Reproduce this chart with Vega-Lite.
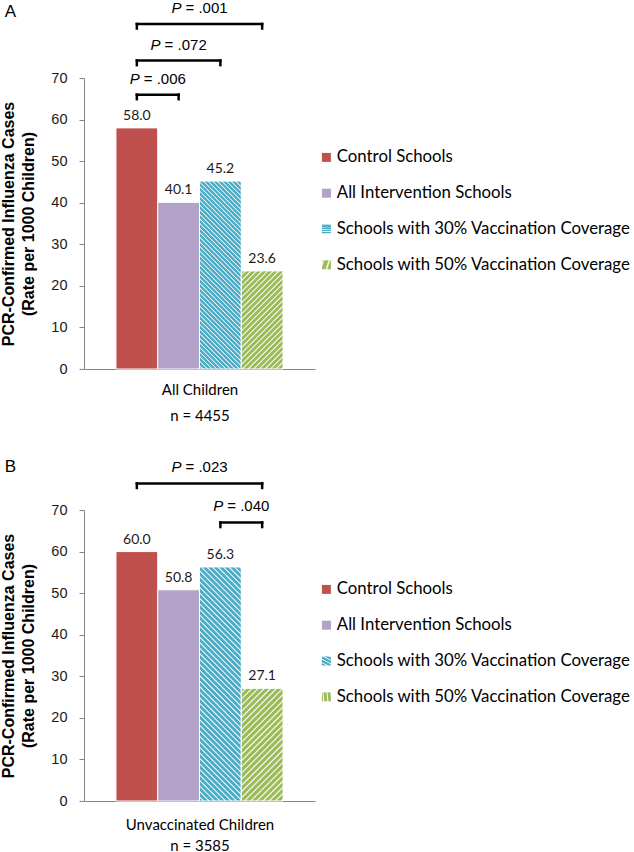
{
  "$schema": "https://vega.github.io/schema/vega-lite/v6.json",
  "background": "white",
  "padding": {"left": 0, "top": 0, "right": 2, "bottom": 2},
  "config": {"view": {"stroke": null}},
  "spacing": 35,
  "params": [
    {"name": "tealStops", "value": [
      {"offset":0,"color":"#4BACC6"},{"offset":0.01,"color":"#4BACC6"},{"offset":0.015,"color":"#FFFFFF"},
      {"offset":0.02,"color":"#4BACC6"},{"offset":0.03,"color":"#4BACC6"},{"offset":0.035,"color":"#FFFFFF"},
      {"offset":0.04,"color":"#4BACC6"},{"offset":0.05,"color":"#4BACC6"},{"offset":0.055,"color":"#FFFFFF"},
      {"offset":0.06,"color":"#4BACC6"},{"offset":0.07,"color":"#4BACC6"},{"offset":0.075,"color":"#FFFFFF"},
      {"offset":0.08,"color":"#4BACC6"},{"offset":0.09,"color":"#4BACC6"},{"offset":0.095,"color":"#FFFFFF"},
      {"offset":0.1,"color":"#4BACC6"},{"offset":0.11,"color":"#4BACC6"},{"offset":0.115,"color":"#FFFFFF"},
      {"offset":0.12,"color":"#4BACC6"},{"offset":0.13,"color":"#4BACC6"},{"offset":0.135,"color":"#FFFFFF"},
      {"offset":0.14,"color":"#4BACC6"},{"offset":0.15,"color":"#4BACC6"},{"offset":0.155,"color":"#FFFFFF"},
      {"offset":0.16,"color":"#4BACC6"},{"offset":0.17,"color":"#4BACC6"},{"offset":0.175,"color":"#FFFFFF"},
      {"offset":0.18,"color":"#4BACC6"},{"offset":0.19,"color":"#4BACC6"},{"offset":0.195,"color":"#FFFFFF"},
      {"offset":0.2,"color":"#4BACC6"},{"offset":0.21,"color":"#4BACC6"},{"offset":0.215,"color":"#FFFFFF"},
      {"offset":0.22,"color":"#4BACC6"},{"offset":0.23,"color":"#4BACC6"},{"offset":0.235,"color":"#FFFFFF"},
      {"offset":0.24,"color":"#4BACC6"},{"offset":0.25,"color":"#4BACC6"},{"offset":0.255,"color":"#FFFFFF"},
      {"offset":0.26,"color":"#4BACC6"},{"offset":0.27,"color":"#4BACC6"},{"offset":0.275,"color":"#FFFFFF"},
      {"offset":0.28,"color":"#4BACC6"},{"offset":0.29,"color":"#4BACC6"},{"offset":0.295,"color":"#FFFFFF"},
      {"offset":0.3,"color":"#4BACC6"},{"offset":0.31,"color":"#4BACC6"},{"offset":0.315,"color":"#FFFFFF"},
      {"offset":0.32,"color":"#4BACC6"},{"offset":0.33,"color":"#4BACC6"},{"offset":0.335,"color":"#FFFFFF"},
      {"offset":0.34,"color":"#4BACC6"},{"offset":0.35,"color":"#4BACC6"},{"offset":0.355,"color":"#FFFFFF"},
      {"offset":0.36,"color":"#4BACC6"},{"offset":0.37,"color":"#4BACC6"},{"offset":0.375,"color":"#FFFFFF"},
      {"offset":0.38,"color":"#4BACC6"},{"offset":0.39,"color":"#4BACC6"},{"offset":0.395,"color":"#FFFFFF"},
      {"offset":0.4,"color":"#4BACC6"},{"offset":0.41,"color":"#4BACC6"},{"offset":0.415,"color":"#FFFFFF"},
      {"offset":0.42,"color":"#4BACC6"},{"offset":0.43,"color":"#4BACC6"},{"offset":0.435,"color":"#FFFFFF"},
      {"offset":0.44,"color":"#4BACC6"},{"offset":0.45,"color":"#4BACC6"},{"offset":0.455,"color":"#FFFFFF"},
      {"offset":0.46,"color":"#4BACC6"},{"offset":0.47,"color":"#4BACC6"},{"offset":0.475,"color":"#FFFFFF"},
      {"offset":0.48,"color":"#4BACC6"},{"offset":0.49,"color":"#4BACC6"},{"offset":0.495,"color":"#FFFFFF"},
      {"offset":0.5,"color":"#4BACC6"},{"offset":0.51,"color":"#4BACC6"},{"offset":0.515,"color":"#FFFFFF"},
      {"offset":0.52,"color":"#4BACC6"},{"offset":0.53,"color":"#4BACC6"},{"offset":0.535,"color":"#FFFFFF"},
      {"offset":0.54,"color":"#4BACC6"},{"offset":0.55,"color":"#4BACC6"},{"offset":0.555,"color":"#FFFFFF"},
      {"offset":0.56,"color":"#4BACC6"},{"offset":0.57,"color":"#4BACC6"},{"offset":0.575,"color":"#FFFFFF"},
      {"offset":0.58,"color":"#4BACC6"},{"offset":0.59,"color":"#4BACC6"},{"offset":0.595,"color":"#FFFFFF"},
      {"offset":0.6,"color":"#4BACC6"},{"offset":0.61,"color":"#4BACC6"},{"offset":0.615,"color":"#FFFFFF"},
      {"offset":0.62,"color":"#4BACC6"},{"offset":0.63,"color":"#4BACC6"},{"offset":0.635,"color":"#FFFFFF"},
      {"offset":0.64,"color":"#4BACC6"},{"offset":0.65,"color":"#4BACC6"},{"offset":0.655,"color":"#FFFFFF"},
      {"offset":0.66,"color":"#4BACC6"},{"offset":0.67,"color":"#4BACC6"},{"offset":0.675,"color":"#FFFFFF"},
      {"offset":0.68,"color":"#4BACC6"},{"offset":0.69,"color":"#4BACC6"},{"offset":0.695,"color":"#FFFFFF"},
      {"offset":0.7,"color":"#4BACC6"},{"offset":0.71,"color":"#4BACC6"},{"offset":0.715,"color":"#FFFFFF"},
      {"offset":0.72,"color":"#4BACC6"},{"offset":0.73,"color":"#4BACC6"},{"offset":0.735,"color":"#FFFFFF"},
      {"offset":0.74,"color":"#4BACC6"},{"offset":0.75,"color":"#4BACC6"},{"offset":0.755,"color":"#FFFFFF"},
      {"offset":0.76,"color":"#4BACC6"},{"offset":0.77,"color":"#4BACC6"},{"offset":0.775,"color":"#FFFFFF"},
      {"offset":0.78,"color":"#4BACC6"},{"offset":0.79,"color":"#4BACC6"},{"offset":0.795,"color":"#FFFFFF"},
      {"offset":0.8,"color":"#4BACC6"},{"offset":0.81,"color":"#4BACC6"},{"offset":0.815,"color":"#FFFFFF"},
      {"offset":0.82,"color":"#4BACC6"},{"offset":0.83,"color":"#4BACC6"},{"offset":0.835,"color":"#FFFFFF"},
      {"offset":0.84,"color":"#4BACC6"},{"offset":0.85,"color":"#4BACC6"},{"offset":0.855,"color":"#FFFFFF"},
      {"offset":0.86,"color":"#4BACC6"},{"offset":0.87,"color":"#4BACC6"},{"offset":0.875,"color":"#FFFFFF"},
      {"offset":0.88,"color":"#4BACC6"},{"offset":0.89,"color":"#4BACC6"},{"offset":0.895,"color":"#FFFFFF"},
      {"offset":0.9,"color":"#4BACC6"},{"offset":0.91,"color":"#4BACC6"},{"offset":0.915,"color":"#FFFFFF"},
      {"offset":0.92,"color":"#4BACC6"},{"offset":0.93,"color":"#4BACC6"},{"offset":0.935,"color":"#FFFFFF"},
      {"offset":0.94,"color":"#4BACC6"},{"offset":0.95,"color":"#4BACC6"},{"offset":0.955,"color":"#FFFFFF"},
      {"offset":0.96,"color":"#4BACC6"},{"offset":0.97,"color":"#4BACC6"},{"offset":0.975,"color":"#FFFFFF"},
      {"offset":0.98,"color":"#4BACC6"},{"offset":0.99,"color":"#4BACC6"},{"offset":0.995,"color":"#FFFFFF"},
      {"offset":1,"color":"#4BACC6"}
    ]},
    {"name": "greenStops", "value": [
      {"offset":0,"color":"#9BBB59"},{"offset":0.02,"color":"#9BBB59"},{"offset":0.03,"color":"#FFFFFF"},
      {"offset":0.04,"color":"#9BBB59"},{"offset":0.06,"color":"#9BBB59"},{"offset":0.07,"color":"#FFFFFF"},
      {"offset":0.08,"color":"#9BBB59"},{"offset":0.1,"color":"#9BBB59"},{"offset":0.11,"color":"#FFFFFF"},
      {"offset":0.12,"color":"#9BBB59"},{"offset":0.14,"color":"#9BBB59"},{"offset":0.15,"color":"#FFFFFF"},
      {"offset":0.16,"color":"#9BBB59"},{"offset":0.18,"color":"#9BBB59"},{"offset":0.19,"color":"#FFFFFF"},
      {"offset":0.2,"color":"#9BBB59"},{"offset":0.22,"color":"#9BBB59"},{"offset":0.23,"color":"#FFFFFF"},
      {"offset":0.24,"color":"#9BBB59"},{"offset":0.26,"color":"#9BBB59"},{"offset":0.27,"color":"#FFFFFF"},
      {"offset":0.28,"color":"#9BBB59"},{"offset":0.3,"color":"#9BBB59"},{"offset":0.31,"color":"#FFFFFF"},
      {"offset":0.32,"color":"#9BBB59"},{"offset":0.34,"color":"#9BBB59"},{"offset":0.35,"color":"#FFFFFF"},
      {"offset":0.36,"color":"#9BBB59"},{"offset":0.38,"color":"#9BBB59"},{"offset":0.39,"color":"#FFFFFF"},
      {"offset":0.4,"color":"#9BBB59"},{"offset":0.42,"color":"#9BBB59"},{"offset":0.43,"color":"#FFFFFF"},
      {"offset":0.44,"color":"#9BBB59"},{"offset":0.46,"color":"#9BBB59"},{"offset":0.47,"color":"#FFFFFF"},
      {"offset":0.48,"color":"#9BBB59"},{"offset":0.5,"color":"#9BBB59"},{"offset":0.51,"color":"#FFFFFF"},
      {"offset":0.52,"color":"#9BBB59"},{"offset":0.54,"color":"#9BBB59"},{"offset":0.55,"color":"#FFFFFF"},
      {"offset":0.56,"color":"#9BBB59"},{"offset":0.58,"color":"#9BBB59"},{"offset":0.59,"color":"#FFFFFF"},
      {"offset":0.6,"color":"#9BBB59"},{"offset":0.62,"color":"#9BBB59"},{"offset":0.63,"color":"#FFFFFF"},
      {"offset":0.64,"color":"#9BBB59"},{"offset":0.66,"color":"#9BBB59"},{"offset":0.67,"color":"#FFFFFF"},
      {"offset":0.68,"color":"#9BBB59"},{"offset":0.7,"color":"#9BBB59"},{"offset":0.71,"color":"#FFFFFF"},
      {"offset":0.72,"color":"#9BBB59"},{"offset":0.74,"color":"#9BBB59"},{"offset":0.75,"color":"#FFFFFF"},
      {"offset":0.76,"color":"#9BBB59"},{"offset":0.78,"color":"#9BBB59"},{"offset":0.79,"color":"#FFFFFF"},
      {"offset":0.8,"color":"#9BBB59"},{"offset":0.82,"color":"#9BBB59"},{"offset":0.83,"color":"#FFFFFF"},
      {"offset":0.84,"color":"#9BBB59"},{"offset":0.86,"color":"#9BBB59"},{"offset":0.87,"color":"#FFFFFF"},
      {"offset":0.88,"color":"#9BBB59"},{"offset":0.9,"color":"#9BBB59"},{"offset":0.91,"color":"#FFFFFF"},
      {"offset":0.92,"color":"#9BBB59"},{"offset":0.94,"color":"#9BBB59"},{"offset":0.95,"color":"#FFFFFF"},
      {"offset":0.96,"color":"#9BBB59"},{"offset":0.98,"color":"#9BBB59"},{"offset":0.99,"color":"#FFFFFF"},
      {"offset":1,"color":"#9BBB59"}
    ]}
  ],
  "datasets": {
    "barsA": [
      {"group": "Control Schools", "rate": 58.0},
      {"group": "All Intervention Schools", "rate": 40.1},
      {"group": "Schools with 30% Vaccination Coverage", "rate": 45.2},
      {"group": "Schools with 50% Vaccination Coverage", "rate": 23.6}
    ],
    "barsB": [
      {"group": "Control Schools", "rate": 60.0},
      {"group": "All Intervention Schools", "rate": 50.8},
      {"group": "Schools with 30% Vaccination Coverage", "rate": 56.3},
      {"group": "Schools with 50% Vaccination Coverage", "rate": 27.1}
    ],
    "bracketsA": [
      {"from": "Control Schools", "to": "All Intervention Schools", "level": 66, "tip": 64.9, "p": "= .006", "at": "All Intervention Schools", "pos": "edge"},
      {"from": "Control Schools", "to": "Schools with 30% Vaccination Coverage", "level": 74.2, "tip": 73.1, "p": "= .072", "at": "All Intervention Schools", "pos": "center"},
      {"from": "Control Schools", "to": "Schools with 50% Vaccination Coverage", "level": 83, "tip": 81.9, "p": "= .001", "at": "Schools with 30% Vaccination Coverage", "pos": "edge"}
    ],
    "bracketsB": [
      {"from": "Control Schools", "to": "Schools with 50% Vaccination Coverage", "level": 76.4, "tip": 75.3, "p": "= .023", "at": "Schools with 30% Vaccination Coverage", "pos": "edge"},
      {"from": "Schools with 30% Vaccination Coverage", "to": "Schools with 50% Vaccination Coverage", "level": 67, "tip": 65.9, "p": "= .040", "at": "Schools with 50% Vaccination Coverage", "pos": "edge"}
    ]
  },
  "vconcat": [
    {
      "title": {"text": "A", "anchor": "start", "frame": "bounds", "font": "Liberation Sans", "fontSize": 17, "fontWeight": "normal", "color": "black", "offset": -20, "dx": 4},
      "width": 231,
      "height": 291,
      "layer": [
        {
          "data": {"name": "barsA"},
          "mark": {"type": "bar", "stroke": "white", "strokeWidth": 1},
          "encoding": {
            "x": {"field": "group", "type": "nominal", "scale": {"domain": ["Control Schools", "All Intervention Schools", "Schools with 30% Vaccination Coverage", "Schools with 50% Vaccination Coverage"], "paddingInner": 0, "paddingOuter": 0.765},
              "axis": {"title": ["All Children", "n = 4455"], "labels": false, "ticks": false, "domainColor": "#868686", "titleFont": "Lato", "titleFontSize": 15, "titleFontWeight": "normal", "titleColor": "black", "titleLineHeight": 26, "titlePadding": 13}},
            "y": {"field": "rate", "type": "quantitative", "scale": {"domain": [0, 70], "nice": false},
              "axis": {"title": ["PCR-Confirmed Influenza Cases", "(Rate per 1000 Children)"], "values": [0, 10, 20, 30, 40, 50, 60, 70], "grid": false, "domainColor": "#868686", "tickColor": "#868686", "tickSize": 5, "labelFont": "Liberation Sans", "labelFontSize": 14.5, "labelColor": "#1a1a1a", "labelPadding": 12, "titleFont": "Liberation Sans", "titleFontSize": 16, "titleFontWeight": "bold", "titleColor": "black", "titleLineHeight": 20, "titlePadding": 14}},
            "color": {"field": "group", "type": "nominal",
              "scale": {"domain": ["Control Schools", "All Intervention Schools", "Schools with 30% Vaccination Coverage", "Schools with 50% Vaccination Coverage"],
                "range": ["#C0504D", "#B3A2C7", {"expr": "{gradient: 'linear', x1: 0, y1: 1, x2: 0.2589, y2: -0.1648, stops: tealStops}"}, {"expr": "{gradient: 'linear', x1: 0, y1: 0, x2: 0.5139, y2: 1.207, stops: greenStops}"}]},
              "legend": {"orient": "none", "legendX": 234, "legendY": 71, "title": null, "symbolType": "square", "symbolSize": 81, "symbolStrokeWidth": 0, "labelFont": "Lato", "labelFontSize": 16.8, "labelColor": "black", "labelOffset": 2, "rowPadding": 17.8, "padding": 0, "labelLimit": 400}}
          }
        },
        {
          "data": {"name": "barsA"},
          "mark": {"type": "text", "font": "Lato", "fontSize": 14, "baseline": "alphabetic", "dy": -8, "color": "#1a1a1a"},
          "encoding": {
            "x": {"field": "group", "type": "nominal", "scale": {"domain": ["Control Schools", "All Intervention Schools", "Schools with 30% Vaccination Coverage", "Schools with 50% Vaccination Coverage"], "paddingInner": 0, "paddingOuter": 0.765}},
            "y": {"field": "rate", "type": "quantitative", "scale": {"domain": [0, 70], "nice": false}},
            "text": {"field": "rate", "type": "quantitative", "format": ".1f"}
          }
        },
        {
          "data": {"name": "bracketsA"},
          "mark": {"type": "rule", "color": "black", "strokeWidth": 2.5, "strokeCap": "square"},
          "encoding": {
            "x": {"field": "from", "type": "nominal", "scale": {"domain": ["Control Schools", "All Intervention Schools", "Schools with 30% Vaccination Coverage", "Schools with 50% Vaccination Coverage"], "paddingInner": 0, "paddingOuter": 0.765}},
            "x2": {"field": "to"},
            "y": {"field": "level", "type": "quantitative", "scale": {"domain": [0, 70], "nice": false}}
          }
        },
        {
          "data": {"name": "bracketsA"},
          "mark": {"type": "rule", "color": "black", "strokeWidth": 2.5, "strokeCap": "square"},
          "encoding": {
            "x": {"field": "from", "type": "nominal", "scale": {"domain": ["Control Schools", "All Intervention Schools", "Schools with 30% Vaccination Coverage", "Schools with 50% Vaccination Coverage"], "paddingInner": 0, "paddingOuter": 0.765}},
            "y": {"field": "level", "type": "quantitative", "scale": {"domain": [0, 70], "nice": false}},
            "y2": {"field": "tip"}
          }
        },
        {
          "data": {"name": "bracketsA"},
          "mark": {"type": "rule", "color": "black", "strokeWidth": 2.5, "strokeCap": "square"},
          "encoding": {
            "x": {"field": "to", "type": "nominal", "scale": {"domain": ["Control Schools", "All Intervention Schools", "Schools with 30% Vaccination Coverage", "Schools with 50% Vaccination Coverage"], "paddingInner": 0, "paddingOuter": 0.765}},
            "y": {"field": "level", "type": "quantitative", "scale": {"domain": [0, 70], "nice": false}},
            "y2": {"field": "tip"}
          }
        },
        {
          "data": {"name": "bracketsA"},
          "transform": [{"filter": "datum.pos === 'edge'"}],
          "mark": {"type": "text", "text": "P", "font": "Liberation Sans", "fontSize": 15, "fontStyle": "italic", "align": "right", "baseline": "alphabetic", "dx": -18, "dy": -11, "color": "black"},
          "encoding": {
            "x": {"field": "at", "type": "nominal", "bandPosition": 0, "scale": {"domain": ["Control Schools", "All Intervention Schools", "Schools with 30% Vaccination Coverage", "Schools with 50% Vaccination Coverage"], "paddingInner": 0, "paddingOuter": 0.765}},
            "y": {"field": "level", "type": "quantitative", "scale": {"domain": [0, 70], "nice": false}}
          }
        },
        {
          "data": {"name": "bracketsA"},
          "transform": [{"filter": "datum.pos === 'center'"}],
          "mark": {"type": "text", "text": "P", "font": "Liberation Sans", "fontSize": 15, "fontStyle": "italic", "align": "right", "baseline": "alphabetic", "dx": -18, "dy": -11, "color": "black"},
          "encoding": {
            "x": {"field": "at", "type": "nominal", "bandPosition": 0.5, "scale": {"domain": ["Control Schools", "All Intervention Schools", "Schools with 30% Vaccination Coverage", "Schools with 50% Vaccination Coverage"], "paddingInner": 0, "paddingOuter": 0.765}},
            "y": {"field": "level", "type": "quantitative", "scale": {"domain": [0, 70], "nice": false}}
          }
        },
        {
          "data": {"name": "bracketsA"},
          "transform": [{"filter": "datum.pos === 'edge'"}],
          "mark": {"type": "text", "font": "Liberation Sans", "fontSize": 15, "align": "left", "baseline": "alphabetic", "dx": -14, "dy": -11, "color": "black"},
          "encoding": {
            "x": {"field": "at", "type": "nominal", "bandPosition": 0, "scale": {"domain": ["Control Schools", "All Intervention Schools", "Schools with 30% Vaccination Coverage", "Schools with 50% Vaccination Coverage"], "paddingInner": 0, "paddingOuter": 0.765}},
            "y": {"field": "level", "type": "quantitative", "scale": {"domain": [0, 70], "nice": false}},
            "text": {"field": "p", "type": "nominal"}
          }
        },
        {
          "data": {"name": "bracketsA"},
          "transform": [{"filter": "datum.pos === 'center'"}],
          "mark": {"type": "text", "font": "Liberation Sans", "fontSize": 15, "align": "left", "baseline": "alphabetic", "dx": -14, "dy": -11, "color": "black"},
          "encoding": {
            "x": {"field": "at", "type": "nominal", "bandPosition": 0.5, "scale": {"domain": ["Control Schools", "All Intervention Schools", "Schools with 30% Vaccination Coverage", "Schools with 50% Vaccination Coverage"], "paddingInner": 0, "paddingOuter": 0.765}},
            "y": {"field": "level", "type": "quantitative", "scale": {"domain": [0, 70], "nice": false}},
            "text": {"field": "p", "type": "nominal"}
          }
        }
      ]
    },
    {
      "title": {"text": "B", "anchor": "start", "frame": "bounds", "font": "Liberation Sans", "fontSize": 17, "fontWeight": "normal", "color": "black", "offset": -16, "dx": 4},
      "width": 231,
      "height": 291,
      "layer": [
        {
          "data": {"name": "barsB"},
          "mark": {"type": "bar", "stroke": "white", "strokeWidth": 1},
          "encoding": {
            "x": {"field": "group", "type": "nominal", "scale": {"domain": ["Control Schools", "All Intervention Schools", "Schools with 30% Vaccination Coverage", "Schools with 50% Vaccination Coverage"], "paddingInner": 0, "paddingOuter": 0.765},
              "axis": {"title": ["Unvaccinated Children", "n = 3585"], "labels": false, "ticks": false, "domainColor": "#868686", "titleFont": "Lato", "titleFontSize": 15, "titleFontWeight": "normal", "titleColor": "black", "titleLineHeight": 21, "titlePadding": 16}},
            "y": {"field": "rate", "type": "quantitative", "scale": {"domain": [0, 70], "nice": false},
              "axis": {"title": ["PCR-Confirmed Influenza Cases", "(Rate per 1000 Children)"], "values": [0, 10, 20, 30, 40, 50, 60, 70], "grid": false, "domainColor": "#868686", "tickColor": "#868686", "tickSize": 5, "labelFont": "Liberation Sans", "labelFontSize": 14.5, "labelColor": "#1a1a1a", "labelPadding": 12, "titleFont": "Liberation Sans", "titleFontSize": 16, "titleFontWeight": "bold", "titleColor": "black", "titleLineHeight": 20, "titlePadding": 14}},
            "color": {"field": "group", "type": "nominal",
              "scale": {"domain": ["Control Schools", "All Intervention Schools", "Schools with 30% Vaccination Coverage", "Schools with 50% Vaccination Coverage"],
                "range": ["#C0504D", "#B3A2C7", {"expr": "{gradient: 'linear', x1: 0, y1: 1, x2: 0.2039, y2: -0.1421, stops: tealStops}"}, {"expr": "{gradient: 'linear', x1: 0, y1: 0, x2: 0.4469, y2: 1.2051, stops: greenStops}"}]},
              "legend": {"orient": "none", "legendX": 234, "legendY": 71, "title": null, "symbolType": "square", "symbolSize": 81, "symbolStrokeWidth": 0, "labelFont": "Lato", "labelFontSize": 16.8, "labelColor": "black", "labelOffset": 2, "rowPadding": 17.8, "padding": 0, "labelLimit": 400}}
          }
        },
        {
          "data": {"name": "barsB"},
          "mark": {"type": "text", "font": "Lato", "fontSize": 14, "baseline": "alphabetic", "dy": -8, "color": "#1a1a1a"},
          "encoding": {
            "x": {"field": "group", "type": "nominal", "scale": {"domain": ["Control Schools", "All Intervention Schools", "Schools with 30% Vaccination Coverage", "Schools with 50% Vaccination Coverage"], "paddingInner": 0, "paddingOuter": 0.765}},
            "y": {"field": "rate", "type": "quantitative", "scale": {"domain": [0, 70], "nice": false}},
            "text": {"field": "rate", "type": "quantitative", "format": ".1f"}
          }
        },
        {
          "data": {"name": "bracketsB"},
          "mark": {"type": "rule", "color": "black", "strokeWidth": 2.5, "strokeCap": "square"},
          "encoding": {
            "x": {"field": "from", "type": "nominal", "scale": {"domain": ["Control Schools", "All Intervention Schools", "Schools with 30% Vaccination Coverage", "Schools with 50% Vaccination Coverage"], "paddingInner": 0, "paddingOuter": 0.765}},
            "x2": {"field": "to"},
            "y": {"field": "level", "type": "quantitative", "scale": {"domain": [0, 70], "nice": false}}
          }
        },
        {
          "data": {"name": "bracketsB"},
          "mark": {"type": "rule", "color": "black", "strokeWidth": 2.5, "strokeCap": "square"},
          "encoding": {
            "x": {"field": "from", "type": "nominal", "scale": {"domain": ["Control Schools", "All Intervention Schools", "Schools with 30% Vaccination Coverage", "Schools with 50% Vaccination Coverage"], "paddingInner": 0, "paddingOuter": 0.765}},
            "y": {"field": "level", "type": "quantitative", "scale": {"domain": [0, 70], "nice": false}},
            "y2": {"field": "tip"}
          }
        },
        {
          "data": {"name": "bracketsB"},
          "mark": {"type": "rule", "color": "black", "strokeWidth": 2.5, "strokeCap": "square"},
          "encoding": {
            "x": {"field": "to", "type": "nominal", "scale": {"domain": ["Control Schools", "All Intervention Schools", "Schools with 30% Vaccination Coverage", "Schools with 50% Vaccination Coverage"], "paddingInner": 0, "paddingOuter": 0.765}},
            "y": {"field": "level", "type": "quantitative", "scale": {"domain": [0, 70], "nice": false}},
            "y2": {"field": "tip"}
          }
        },
        {
          "data": {"name": "bracketsB"},
          "mark": {"type": "text", "text": "P", "font": "Liberation Sans", "fontSize": 15, "fontStyle": "italic", "align": "right", "baseline": "alphabetic", "dx": -18, "dy": -11, "color": "black"},
          "encoding": {
            "x": {"field": "at", "type": "nominal", "bandPosition": 0, "scale": {"domain": ["Control Schools", "All Intervention Schools", "Schools with 30% Vaccination Coverage", "Schools with 50% Vaccination Coverage"], "paddingInner": 0, "paddingOuter": 0.765}},
            "y": {"field": "level", "type": "quantitative", "scale": {"domain": [0, 70], "nice": false}}
          }
        },
        {
          "data": {"name": "bracketsB"},
          "mark": {"type": "text", "font": "Liberation Sans", "fontSize": 15, "align": "left", "baseline": "alphabetic", "dx": -14, "dy": -11, "color": "black"},
          "encoding": {
            "x": {"field": "at", "type": "nominal", "bandPosition": 0, "scale": {"domain": ["Control Schools", "All Intervention Schools", "Schools with 30% Vaccination Coverage", "Schools with 50% Vaccination Coverage"], "paddingInner": 0, "paddingOuter": 0.765}},
            "y": {"field": "level", "type": "quantitative", "scale": {"domain": [0, 70], "nice": false}},
            "text": {"field": "p", "type": "nominal"}
          }
        }
      ]
    }
  ],
  "resolve": {"scale": {"color": "independent", "x": "independent", "y": "independent"}, "legend": {"color": "independent"}}
}
